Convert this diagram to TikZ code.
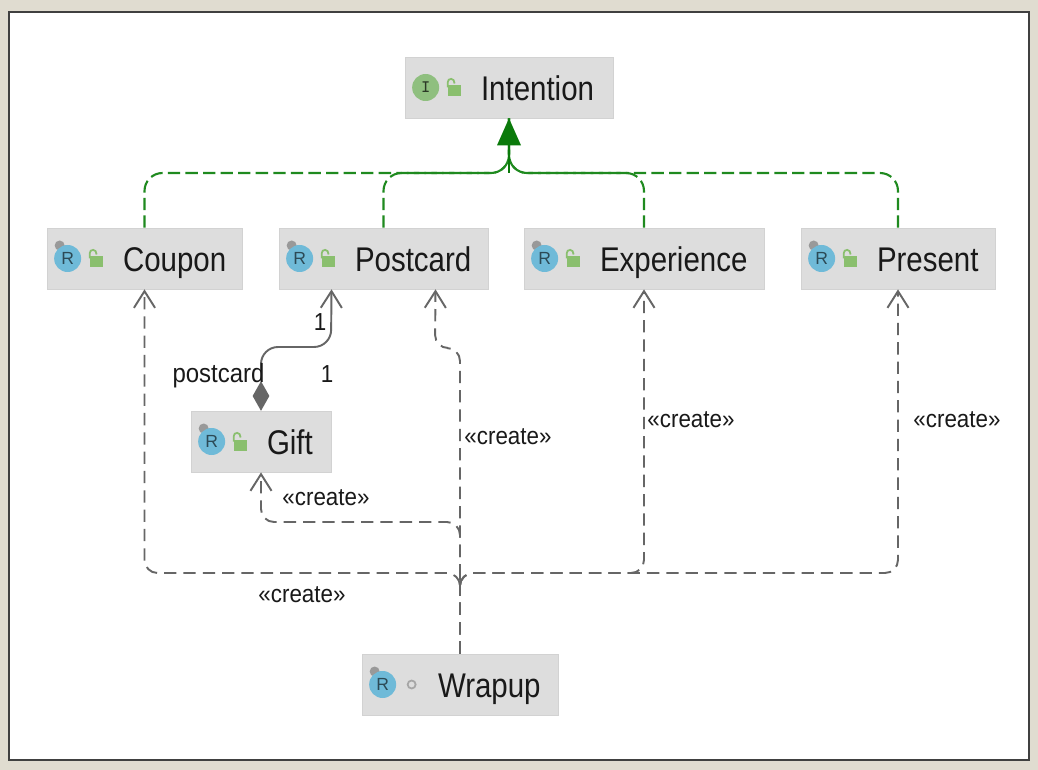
\documentclass[tikz,border=0pt]{standalone}
\usepackage{fontspec}
\setmainfont{Liberation Sans}
\newfontfamily\classfont[FakeStretch=0.86]{Liberation Sans}
\newfontfamily\labelfont[FakeStretch=0.91]{Liberation Sans}
\usetikzlibrary{arrows.meta,shapes.geometric}
\definecolor{framebg}{HTML}{E0DCD0}
\definecolor{boxgrey}{HTML}{DDDDDD}
\definecolor{boxedge}{HTML}{D2D2D2}
\definecolor{implgreen}{HTML}{1F8A1F}
\definecolor{headgreen}{HTML}{0B7A0B}
\definecolor{linegrey}{HTML}{666666}
\definecolor{rblue}{HTML}{6FBAD8}
\definecolor{igreen}{HTML}{8FBF7F}
\definecolor{lockgreen}{HTML}{8ABF6E}
\tikzset{
  classbox/.style={draw=boxedge,fill=boxgrey,line width=0.4pt,minimum height=61*0.02cm,inner sep=0pt},
  classname/.style={anchor=base west,inner sep=0pt,text=black!90,font=\classfont\fontsize{19.5}{24}\selectfont},
  icon/.style={circle,minimum size=27*0.02cm,inner sep=0pt,font=\fontsize{10}{12}\selectfont},
  tag/.style={inner sep=0pt,text=black!90,font=\labelfont\fontsize{14}{16}\selectfont},
  impl/.style={draw=implgreen,line width=1.2pt,dash pattern=on 7pt off 3pt,rounded corners=18*0.02cm},
  create/.style={draw=linegrey,line width=1.1pt,dash pattern=on 7pt off 4pt,rounded corners=13*0.02cm,-{Straight Barb[length=9.5pt,width=12pt]}},
  lock/.pic={
    \fill[lockgreen] (-6,-2) rectangle (7,9);
    \draw[lockgreen,line width=1pt] (-6,0) -- (-6,-5) .. controls (-6,-10) and (1,-10) .. (1,-4);
  }
}
\begin{document}
\begin{tikzpicture}[x=0.02cm,y=-0.02cm]
\fill [framebg] (0,0) rectangle (1038,770);
\draw [fill=white,draw=black!75,line width=1.2pt] (9,12) rectangle (1029,760);
\foreach \nm/\cx/\cy/\boxw/\txt in {intention/509/87.5/208/Intention,coupon/144.5/258.5/195/Coupon,postcard/383.5/258.5/209/Postcard,experience/644/258.5/240/Experience,present/898/258.5/194/Present,gift/261/441.5/140/Gift,wrapup/460/684.5/196/Wrapup}
{
  \node [classbox,minimum width=\boxw*0.02cm] (\nm) at (\cx,\cy) {};
  \node [classname] (\nm name) at ([xshift=76*0.02cm,yshift=-13*0.02cm]\nm.west) {\txt};
}
\foreach \nm in {coupon,postcard,experience,present,gift,wrapup}
{
  \fill [gray!80] ([xshift=13*0.02cm,yshift=13*0.02cm]\nm.west) circle (5*0.02cm);
  \node [icon,fill=rblue,text=black!60!rblue] (\nm icon) at ([xshift=21*0.02cm]\nm.west) {R};
}
\node [icon,fill=igreen,text=black!70!igreen,font=\ttfamily\bfseries\fontsize{10}{12}\selectfont] (intention icon) at ([xshift=21*0.02cm]intention.west) {I};
\foreach \nm in {intention,coupon,postcard,experience,present,gift}
  \pic at ([xshift=49*0.02cm]\nm.west) {lock};
\draw [gray!70,line width=1pt] ([xshift=50*0.02cm]wrapup.west) circle (4*0.02cm);

\coordinate (bus) at (509,173);
\draw [impl] (coupon.north) |- (bus) -- (intention.south);
\draw [impl] (postcard.north) |- (bus) -- (intention.south);
\draw [impl] (experience.north) |- (bus) -- (intention.south);
\draw [impl] (present.north) |- (bus) -- (intention.south);
\draw [draw=headgreen,line width=1.5pt,-{Triangle[length=27*0.02cm,width=24*0.02cm,fill=headgreen,line width=0pt]}] (bus) -- (intention.south);

\coordinate (postcardin) at ([xshift=52*0.02cm]postcard.south);
\coordinate (postcardout) at ([xshift=-52*0.02cm]postcard.south);
\coordinate (topbus) at (460,573);
\coordinate (topdrop) at (460,585);
\draw [create] (wrapup.north) -- (topdrop) -- (topbus) -| (coupon.south);
\draw [create] (wrapup.north) -- (topdrop) -- (topbus) -| (experience.south);
\draw [create] (wrapup.north) -- (topdrop) -- (topbus) -| (present.south);
\draw [create] (wrapup.north) -- (460,348) -- (435,348) -- (postcardin);
\draw [create] (wrapup.north) -- (460,522) -| (gift.south);
\node [diamond,fill=linegrey,minimum width=17*0.02cm,minimum height=30*0.02cm,inner sep=0pt] (giftdiamond) at (261,396) {};
\draw [draw=linegrey,line width=1.1pt,rounded corners=17*0.02cm,-{Straight Barb[length=9.5pt,width=12pt]}] (giftdiamond.north) -- (261,347) -- (331,347) -- (postcardout);

\node [tag] (one a) at (320,322) {1};
\node [tag] (one b) at (327,374) {1};
\node [tag,font=\labelfont\fontsize{15}{16}\selectfont] (role) at (218.5,376) {postcard};
\node [tag] (create a) at (508,437) {«create»};
\node [tag] (create b) at (691,420) {«create»};
\node [tag] (create c) at (957,420) {«create»};
\node [tag] (create d) at (326,498) {«create»};
\node [tag] (create e) at (302,595) {«create»};
\end{tikzpicture}
\end{document}
